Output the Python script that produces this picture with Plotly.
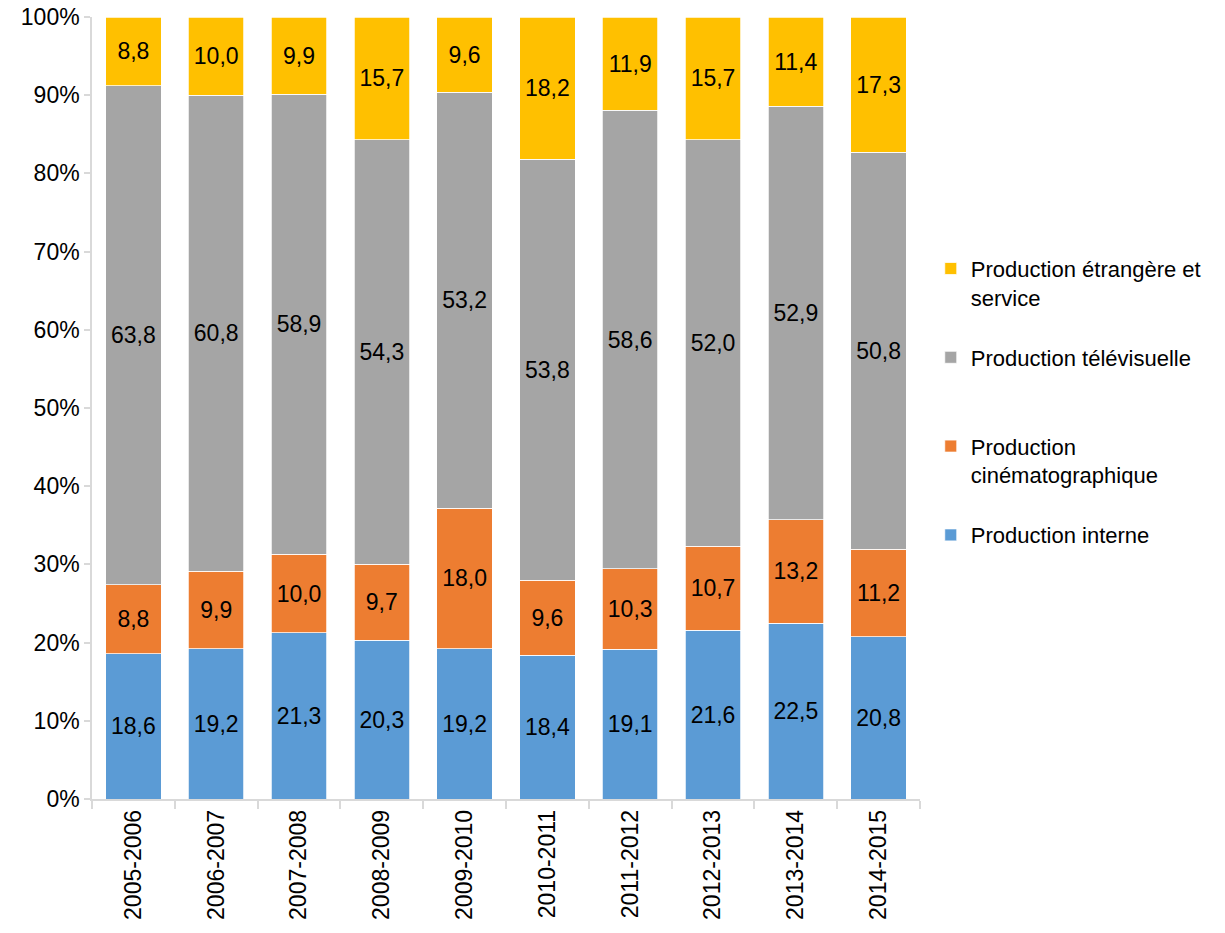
import plotly.graph_objects as go

categories = ["2005-2006", "2006-2007", "2007-2008", "2008-2009", "2009-2010",
              "2010-2011", "2011-2012", "2012-2013", "2013-2014", "2014-2015"]
interne = [18.6, 19.2, 21.3, 20.3, 19.2, 18.4, 19.1, 21.6, 22.5, 20.8]
cinema = [8.8, 9.9, 10.0, 9.7, 18.0, 9.6, 10.3, 10.7, 13.2, 11.2]
tele = [63.8, 60.8, 58.9, 54.3, 53.2, 53.8, 58.6, 52.0, 52.9, 50.8]
etrangere = [8.8, 10.0, 9.9, 15.7, 9.6, 18.2, 11.9, 15.7, 11.4, 17.3]

NB = "\u00a0"
series = [
    ("Production interne<br>" + NB + "<br>" + NB, interne, "#5B9BD5"),
    ("Production<br>cinématographique<br>" + NB, cinema, "#ED7D31"),
    ("Production télévisuelle<br>" + NB + "<br>" + NB, tele, "#A5A5A5"),
    ("Production étrangère et<br>service<br>" + NB, etrangere, "#FFC000"),
]

FONT = "Liberation Sans, Arial, sans-serif"
FS = 23

fig = go.Figure()
for name, vals, col in series:
    fig.add_trace(go.Bar(
        x=categories, y=vals, name=name,
        marker=dict(color=col, line=dict(color="white", width=0.75)),
        text=[f"{v:.1f}".replace(".", ",") for v in vals],
        textposition="inside", insidetextanchor="middle",
        textangle=0, constraintext="none",
        textfont=dict(family=FONT, size=FS, color="black"),
        hoverinfo="skip",
    ))

fig.update_layout(
    barmode="stack", barnorm="percent", bargap=0.33,
    width=1225, height=933,
    margin=dict(l=92, r=305, t=17, b=134, autoexpand=False),
    paper_bgcolor="white", plot_bgcolor="white",
    font=dict(family=FONT, size=FS, color="black"),
    legend=dict(x=1.013, xanchor="left", y=0.705, yanchor="top",
                traceorder="reversed", valign="top",
                font=dict(family=FONT, size=22, color="black"),
                itemwidth=30),
    xaxis=dict(showline=True, linecolor="#D9D9D9", linewidth=1.5,
               ticks="outside", tickson="boundaries", ticklen=8,
               tickcolor="#D9D9D9", tickwidth=1.5, tickangle=-90,
               tickfont=dict(family=FONT, size=FS, color="black"),
               showgrid=False, automargin=False, ticklabeloverflow="allow"),
    yaxis=dict(range=[0, 100], dtick=10, ticksuffix="%",
               showline=True, linecolor="#D9D9D9", linewidth=1.5,
               ticks="outside", ticklen=6, tickcolor="#D9D9D9", tickwidth=1.5,
               tickfont=dict(family=FONT, size=FS, color="black"),
               showgrid=False, zeroline=False, automargin=False,
               ticklabeloverflow="allow"),
)

fig.write_html("out.html", config={"displayModeBar": False},
               post_script="document.body.style.margin='0';document.body.style.overflow='hidden';")
